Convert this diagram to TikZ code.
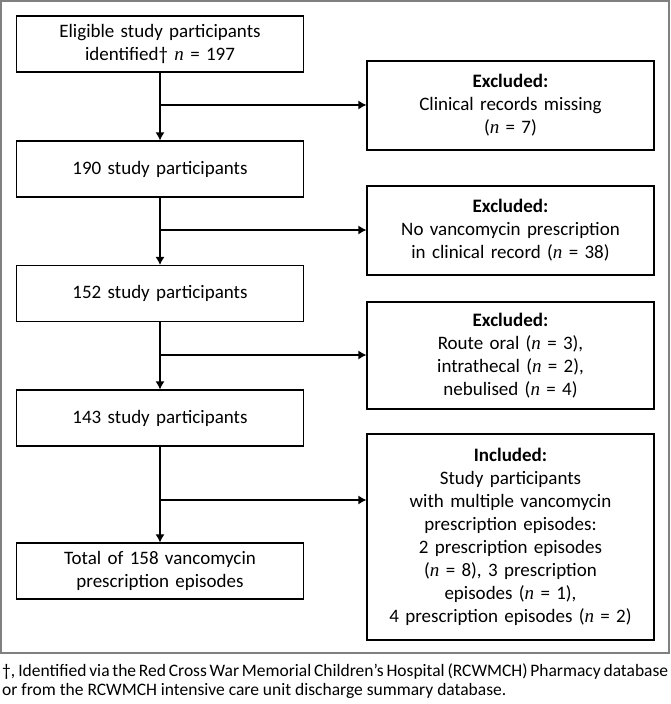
\documentclass[tikz,border=0pt]{standalone}
\usepackage{fontspec}
\setmainfont{Carlito}
\newfontfamily\nserif{Liberation Serif}
\usetikzlibrary{arrows.meta,positioning}
\newcommand{\boxwd}{287pt}
\newcommand{\nvar}{{\nserif\itshape n}}
\tikzset{
    stepsty/.style={draw,rectangle,line width=1.2pt,minimum width=\boxwd,minimum height=56pt,text width=280pt,align=center,inner sep=0pt,font=\fontsize{19}{23}\selectfont},
    outsty/.style={stepsty,minimum height=89pt},
    flowsty/.style={line width=1.2pt},
    framesty/.style={draw=gray,line width=1.5pt},
    notesty/.style={text width=666pt,align=justify,inner sep=0pt,font=\fontsize{17.5}{19}\selectfont},
}

\begin{document}
\begin{tikzpicture}[x=1pt,y=-1pt,>={Latex[length=8pt,width=9pt]}]
\useasboundingbox (0,0) rectangle (670,704);
\draw[framesty] (1,1) rectangle (669,653);

\node[stepsty] (s1) at (160,44) {Eligible study participants\\identified\textdagger{} \nvar{} = 197};
\node[stepsty] (s2) at (160,169) {190 study participants};
\node[stepsty] (s3) at (160,293.5) {152 study participants};
\node[stepsty] (s4) at (160,418) {143 study participants};
\node[stepsty] (s5) at (160,571) {Total of 158 vancomycin\\prescription episodes};

\node[outsty] (r1) at (510.5,105.5) {\textbf{Excluded:}\\Clinical records missing\\(\nvar{} = 7)};
\node[outsty] (r2) at (510.5,230.5) {\textbf{Excluded:}\\No vancomycin prescription\\in clinical record (\nvar{} = 38)};
\node[outsty,minimum height=107pt] (r3) at (510.5,355.5) {\textbf{Excluded:}\\Route oral (\nvar{} = 3),\\intrathecal (\nvar{} = 2),\\nebulised (\nvar{} = 4)};
\node[outsty,minimum height=206pt] (r4) at (510.5,537) {\textbf{Included:}\\Study participants\\with multiple vancomycin\\prescription episodes:\\2 prescription episodes\\(\nvar{} = 8), 3 prescription\\episodes (\nvar{} = 1),\\4 prescription episodes (\nvar{} = 2)};

\coordinate (b1) at (160,105);
\coordinate (b2) at (160,230);
\coordinate (b3) at (160,355);
\coordinate (b4) at (160,500);

\draw[flowsty,->] (s1) -- (s2);
\draw[flowsty,->] (s2) -- (s3);
\draw[flowsty,->] (s3) -- (s4);
\draw[flowsty,->] (s4) -- (s5);
\draw[flowsty,->] (b1) -- (b1 -| r1.west);
\draw[flowsty,->] (b2) -- (b2 -| r2.west);
\draw[flowsty,->] (b3) -- (b3 -| r3.west);
\draw[flowsty,->] (b4) -- (b4 -| r4.west);

\node[notesty,anchor=north west] (note) at (2,663) {\textdagger, Identified via the Red Cross War Memorial Children’s Hospital (RCWMCH) Pharmacy database or from the RCWMCH intensive care unit discharge summary database.};
\end{tikzpicture}
\end{document}
